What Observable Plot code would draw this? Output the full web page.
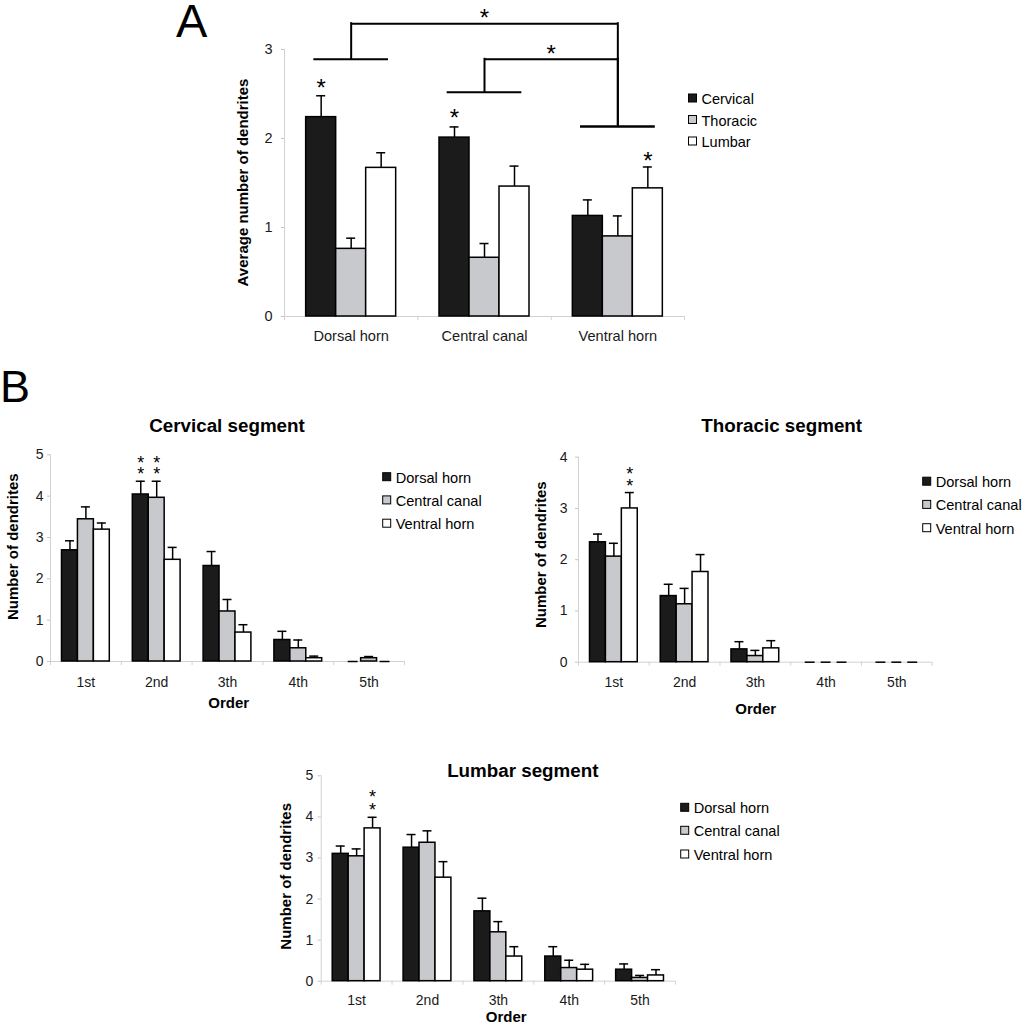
<!DOCTYPE html>
<html>
<head>
<meta charset="utf-8">
<script src="https://cdn.jsdelivr.net/npm/d3@7"></script>
<script src="https://cdn.jsdelivr.net/npm/@observablehq/plot@0.6"></script>
<style>
  body { margin: 0; background: #fff; }
  #fig { position: relative; width: 1023px; height: 1030px; overflow: hidden; background: #fff;
         font-family: "Liberation Sans", Arial, sans-serif; }
  .panel { position: absolute; }
  #overlay { position: absolute; left: 0; top: 0; pointer-events: none; }
</style>
</head>
<body>
<div id="fig"></div>
<script>
// ---------------- DATA ----------------
// Panel A: average number of dendrites by location and segment
const regionsA = ["Dorsal horn", "Central canal", "Ventral horn"];
const segmentsA = ["Cervical", "Thoracic", "Lumbar"];
const cervicalMeanA = [2.24, 2.01, 1.13];
const cervicalSeA   = [0.24, 0.12, 0.18];
const thoracicMeanA = [0.76, 0.66, 0.90];
const thoracicSeA   = [0.12, 0.16, 0.23];
const lumbarMeanA   = [1.67, 1.46, 1.44];
const lumbarSeA     = [0.17, 0.23, 0.24];
const starsA = [ {cat: 0, ser: 0, y: 2.63, count: 1}, {cat: 1, ser: 0, y: 2.30, count: 1},
                 {cat: 2, ser: 2, y: 1.815, count: 1} ];
const comparisonsA = [
  {from: 0, to: 2, fromLevel: 2.89, toLevel: 2.135, top: 3.29},
  {from: 1, to: 2, fromLevel: 2.52, toLevel: 2.135, top: 2.89}
];

// Panel B: number of dendrites by order
const orders = ["1st", "2nd", "3th", "4th", "5th"];
const regionsB = ["Dorsal horn", "Central canal", "Ventral horn"];

const cervDorsal     = [2.69, 4.04, 2.31, 0.52, 0];
const cervDorsalSe   = [0.23, 0.32, 0.35, 0.21, 0];
const cervCentral    = [3.44, 3.96, 1.21, 0.32, 0.08];
const cervCentralSe  = [0.30, 0.40, 0.29, 0.20, 0.04];
const cervVentral    = [3.19, 2.46, 0.70, 0.08, 0];
const cervVentralSe  = [0.16, 0.30, 0.19, 0.05, 0];
const cervStars = [ {cat: 1, ser: 0, y: 4.715, count: 2}, {cat: 1, ser: 1, y: 4.715, count: 2} ];

const thorDorsal     = [2.34, 1.29, 0.25, 0, 0];
const thorDorsalSe   = [0.16, 0.23, 0.15, 0, 0];
const thorCentral    = [2.06, 1.13, 0.12, 0, 0];
const thorCentralSe  = [0.26, 0.31, 0.11, 0, 0];
const thorVentral    = [3.00, 1.76, 0.27, 0, 0];
const thorVentralSe  = [0.31, 0.34, 0.15, 0, 0];
const thorStars = [ {cat: 0, ser: 2, y: 3.60, count: 2} ];

const lumbDorsal     = [3.10, 3.25, 1.70, 0.60, 0.28];
const lumbDorsalSe   = [0.19, 0.32, 0.32, 0.24, 0.14];
const lumbCentral    = [3.04, 3.37, 1.19, 0.32, 0.08];
const lumbCentralSe  = [0.18, 0.29, 0.26, 0.19, 0.06];
const lumbVentral    = [3.72, 2.52, 0.60, 0.28, 0.14];
const lumbVentralSe  = [0.27, 0.39, 0.24, 0.13, 0.14];
const lumbStars = [ {cat: 0, ser: 2, y: 4.395, count: 2} ];

// ---------------- STYLE ----------------
const seriesColors = ["#1b1b1b", "#c8c9cc", "#ffffff"];
const FONT = '"Liberation Sans", Arial, sans-serif';
const fig = document.getElementById("fig");

function place(node, left, top) {
  const d = document.createElement("div");
  d.className = "panel";
  d.style.left = left + "px";
  d.style.top = top + "px";
  d.appendChild(node);
  fig.appendChild(d);
}

function groupedChart(o) {
  const n = o.cats.length, k = o.means.length, bw = 0.225;
  const rows = [];
  o.cats.forEach((c, ci) => o.means.forEach((m, si) => {
    const x1 = ci + (si - k / 2) * bw;
    rows.push({ci, si, x1, x2: x1 + bw, xc: x1 + bw / 2, mean: m[ci], se: o.ses[si][ci]});
  }));
  const pxPerUnit = (o.width - o.ml - o.mr) / n;
  const cap = 4.5 / pxPerUnit;
  const errRows = rows.filter(d => d.se > 0);
  const starRows = o.stars.map(s => ({x: s.cat + (s.ser - k / 2) * bw + bw / 2, y: s.y,
                                      label: Array(s.count).fill("*").join("\n")}));
  const marks = [
    Plot.ruleX([-0.5], {y1: o.yDomain[0], y2: o.yDomain[1], stroke: "#d2d2d2"}),
    Plot.ruleY([0], {stroke: "#d2d2d2"}),
    Plot.axisY({ticks: o.yTicks, tickSize: 3, tickPadding: o.yPad, tickFormat: d => String(d),
                stroke: "#c4c4c4", fill: "#1a1a1a", label: null, fontSize: o.tickFont}),
    Plot.axisX({ticks: d3.range(n + 1).map(i => i - 0.5), tickSize: 4, tickFormat: () => "",
                stroke: "#d2d2d2", label: null}),
    Plot.axisX({ticks: d3.range(n), tickSize: 0, tickPadding: o.xPad, tickFormat: i => o.cats[i],
                fill: "#1a1a1a", label: null, fontSize: o.catFont})
  ];
  o.means.forEach((m, si) => {
    marks.push(Plot.rect(rows.filter(d => d.si === si && d.mean > 0),
      {x1: "x1", x2: "x2", y1: 0, y2: "mean", fill: seriesColors[si], stroke: "#000", strokeWidth: 1.5}));
  });
  marks.push(Plot.ruleY(rows.filter(d => d.mean === 0),
    {x1: "x1", x2: "x2", y: 0, stroke: "#000", strokeWidth: 1.5, insetLeft: 3, insetRight: 3}));
  marks.push(Plot.ruleX(errRows, {x: "xc", y1: "mean", y2: d => d.mean + d.se, stroke: "#000", strokeWidth: 1.5}));
  marks.push(Plot.ruleY(errRows, {y: d => d.mean + d.se, x1: d => d.xc - cap, x2: d => d.xc + cap,
                                  stroke: "#000", strokeWidth: 1.5}));
  marks.push(Plot.text(starRows, {x: "x", y: "y", text: "label", fontSize: o.starFont,
                                  lineHeight: o.starLine || 1, dy: 0.255 * o.starFont, fill: "#000"}));
  if (o.extra) marks.push(...o.extra);
  const svg = Plot.plot({
    width: o.width, height: o.height,
    marginLeft: o.ml, marginRight: o.mr, marginTop: o.mt, marginBottom: o.mb,
    x: {domain: [-0.5, n - 0.5], label: null},
    y: {domain: o.yDomain, label: null},
    style: {fontFamily: FONT, fontSize: "14px", color: "#000", background: "transparent", overflow: "visible"},
    marks
  });
  place(svg, o.left, o.top);
}

// ---- Panel A brackets built from comparisons ----
const bracketH = [], bracketV = [], bracketStars = [];
comparisonsA.forEach(c => {
  bracketH.push({x1: c.from - 0.28, x2: c.from + 0.28, y: c.fromLevel});
  bracketH.push({x1: c.to - 0.28, x2: c.to + 0.28, y: c.toLevel});
  bracketH.push({x1: c.from, x2: c.to, y: c.top});
  bracketV.push({x: c.from, y1: c.fromLevel, y2: c.top});
  bracketV.push({x: c.to, y1: c.toLevel, y2: c.top});
  bracketStars.push({x: (c.from + c.to) / 2, y: c.top});
});
const bracketMarks = [
  Plot.ruleY(bracketH, {x1: "x1", x2: "x2", y: "y", stroke: "#000", strokeWidth: 2}),
  Plot.ruleX(bracketV, {x: "x", y1: "y1", y2: "y2", stroke: "#000", strokeWidth: 2, strokeLinecap: "square"}),
  Plot.text(bracketStars, {x: "x", y: "y", text: () => "*", fontSize: 24, dy: -11 + 0.255 * 24, fill: "#000"})
];

// ---------------- CHARTS ----------------
groupedChart({
  cats: regionsA, means: [cervicalMeanA, thoracicMeanA, lumbarMeanA], ses: [cervicalSeA, thoracicSeA, lumbarSeA],
  stars: starsA, starFont: 24, yDomain: [0, 3], yTicks: [0, 1, 2, 3],
  left: 150, top: 0, width: 560, height: 360, ml: 134, mr: 26, mt: 49, mb: 44,
  yPad: 9, xPad: 14, tickFont: 14.5, catFont: 14.6, extra: bracketMarks
});

groupedChart({
  cats: orders, means: [cervDorsal, cervCentral, cervVentral], ses: [cervDorsalSe, cervCentralSe, cervVentralSe],
  stars: cervStars, starFont: 18, starLine: 0.61, yDomain: [0, 5], yTicks: [0, 1, 2, 3, 4, 5],
  left: 0, top: 430, width: 410, height: 261, ml: 50, mr: 6, mt: 24.3, mb: 30,
  yPad: 4, xPad: 16, tickFont: 14, catFont: 14
});

groupedChart({
  cats: orders, means: [thorDorsal, thorCentral, thorVentral], ses: [thorDorsalSe, thorCentralSe, thorVentralSe],
  stars: thorStars, starFont: 18, starLine: 0.63, yDomain: [0, 4], yTicks: [0, 1, 2, 3, 4],
  left: 520, top: 430, width: 418, height: 261.7, ml: 58, mr: 6.3, mt: 26.7, mb: 30,
  yPad: 8, xPad: 15, tickFont: 14, catFont: 14
});

groupedChart({
  cats: orders, means: [lumbDorsal, lumbCentral, lumbVentral], ses: [lumbDorsalSe, lumbCentralSe, lumbVentralSe],
  stars: lumbStars, starFont: 18, starLine: 0.72, yDomain: [0, 5], yTicks: [0, 1, 2, 3, 4, 5],
  left: 260, top: 760, width: 421, height: 250.7, ml: 60.7, mr: 6, mt: 15.3, mb: 30,
  yPad: 5, xPad: 14.3, tickFont: 14, catFont: 14
});

// ---------------- TEXT OVERLAY (titles, labels, legends) ----------------
const overlay = d3.select(fig).append("svg").attr("id", "overlay")
  .attr("width", 1023).attr("height", 1030)
  .attr("font-family", FONT).attr("fill", "#000");

function txt(x, y, s, size, opt = {}) {
  const t = overlay.append("text").attr("x", x).attr("y", y).attr("font-size", size)
    .attr("font-weight", opt.weight || "normal").attr("text-anchor", opt.anchor || "start").text(s);
  if (opt.rotate) t.attr("transform", `rotate(-90 ${x} ${y})`);
}
function legend(x, baselines, labels, size) {
  labels.forEach((lab, i) => {
    const b = baselines[i];
    overlay.append("rect").attr("x", x).attr("y", b - 10).attr("width", 8).attr("height", 8)
      .attr("fill", seriesColors[i]).attr("stroke", "#000").attr("stroke-width", 1);
    txt(x + 13, b, lab, size);
  });
}

txt(176, 37, "A", 47);
txt(0, 402, "B", 45);

txt(248, 182.5, "Average number of dendrites", 15, {weight: "bold", anchor: "middle", rotate: true});
legend(688.5, [104, 125.5, 147], segmentsA, 14.5);

txt(227, 432.3, "Cervical segment", 18.8, {weight: "bold", anchor: "middle"});
txt(18.3, 546.7, "Number of dendrites", 15, {weight: "bold", anchor: "middle", rotate: true});
txt(228.8, 708.3, "Order", 15, {weight: "bold", anchor: "middle"});
legend(382.7, [482.7, 505.9, 529.2], regionsB, 14.6);

txt(781.7, 432.3, "Thoracic segment", 18.8, {weight: "bold", anchor: "middle"});
txt(545.7, 554.7, "Number of dendrites", 15, {weight: "bold", anchor: "middle", rotate: true});
txt(755.8, 714, "Order", 15, {weight: "bold", anchor: "middle"});
legend(922.7, [487.2, 510.4, 533.7], regionsB, 14.6);

txt(522.8, 777, "Lumbar segment", 18.8, {weight: "bold", anchor: "middle"});
txt(290.7, 876.3, "Number of dendrites", 15, {weight: "bold", anchor: "middle", rotate: true});
txt(506.3, 1021.7, "Order", 15, {weight: "bold", anchor: "middle"});
legend(680.7, [813.3, 836.3, 860], regionsB, 14.6);
</script>
</body>
</html>
